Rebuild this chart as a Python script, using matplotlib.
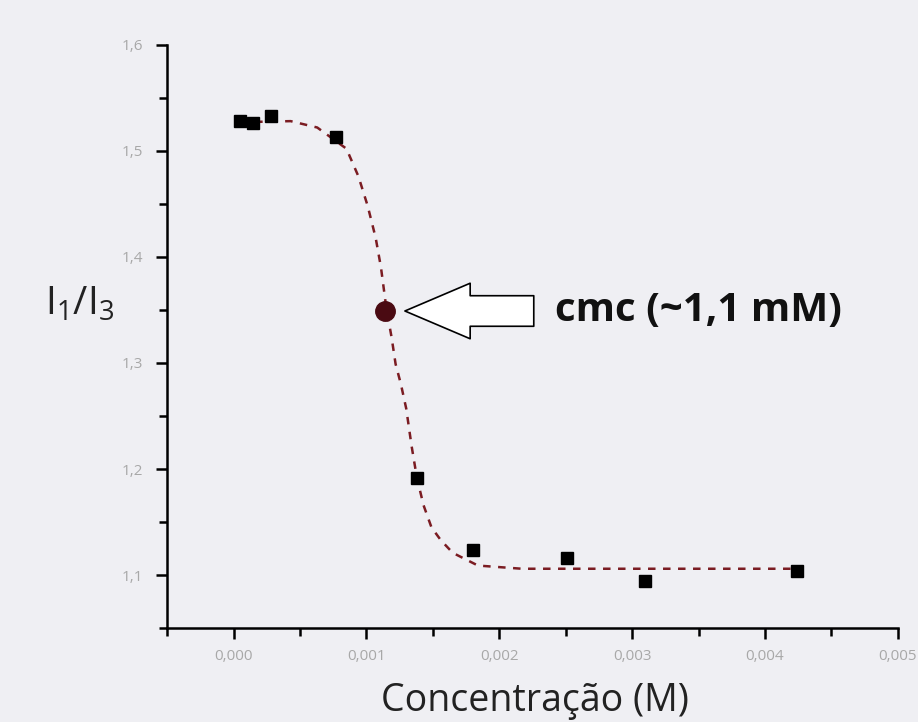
import matplotlib
matplotlib.use("Agg")
import matplotlib.pyplot as plt
from matplotlib.ticker import MultipleLocator

# measured points (concentration in M, I1/I3)
conc = [0.00005, 0.00015, 0.00028, 0.00077, 0.00138, 0.00180, 0.00251, 0.00310, 0.00424]
ratio = [1.528, 1.526, 1.533, 1.513, 1.192, 1.124, 1.116, 1.094, 1.104]

# fitted sigmoid
fit_x = [0.00005, 0.00043, 0.00063, 0.00085, 0.00094, 0.00101, 0.00107, 0.00111,
         0.00115, 0.00119, 0.00122, 0.00126, 0.00130, 0.00134, 0.00138, 0.00143,
         0.00149, 0.00156, 0.00165, 0.00184, 0.00217, 0.00315, 0.00426]
fit_y = [1.527, 1.528, 1.522, 1.502, 1.476, 1.448, 1.418, 1.390,
         1.352, 1.324, 1.299, 1.280, 1.257, 1.222, 1.192, 1.166,
         1.145, 1.133, 1.121, 1.109, 1.106, 1.106, 1.106]

# cmc point
cmc_x = 0.00114
cmc_y = 1.349

xticks = [0.000, 0.001, 0.002, 0.003, 0.004, 0.005]
xtick_labels = ["0,000", "0,001", "0,002", "0,003", "0,004", "0,005"]
yticks = [1.1, 1.2, 1.3, 1.4, 1.5, 1.6]
ytick_labels = ["1,1", "1,2", "1,3", "1,4", "1,5", "1,6"]

bg = "#efeff3"
plt.rcParams['font.family'] = ['Open Sans', 'DejaVu Sans']

fig = plt.figure(figsize=(9.18, 7.22), dpi=100, facecolor=bg)
ax = fig.add_axes([0.182, 0.130, 0.796, 0.808])
ax.set_facecolor(bg)

ax.plot(fit_x, fit_y, color="#7b1c22", lw=1.8, ls=(0, (3, 3)), zorder=2)
ax.plot(conc, ratio, ls="none", marker="s", ms=8.5, color="black", zorder=3)
ax.plot([cmc_x], [cmc_y], ls="none", marker="o", ms=14, color="#4a0a12", zorder=4)

# hollow arrow pointing at cmc
ax.annotate("", xy=(0.00129, cmc_y), xytext=(0.00226, cmc_y),
            arrowprops=dict(arrowstyle="simple,head_length=47,head_width=40,tail_width=22",
                            mutation_scale=1, fc="white", ec="black", lw=1.2,
                            shrinkA=0, shrinkB=0))
ax.text(0.00242, cmc_y, "cmc (~1,1 mM)", fontsize=29, fontweight="bold",
        va="center", ha="left", color="#111111")

ax.set_xlim(-0.0005, 0.005)
ax.set_ylim(1.05, 1.6)
ax.set_xticks(xticks)
ax.set_xticklabels(xtick_labels)
ax.set_yticks(yticks)
ax.set_yticklabels(ytick_labels)
ax.xaxis.set_minor_locator(MultipleLocator(0.0005))
ax.yaxis.set_minor_locator(MultipleLocator(0.05))

for s in ["top", "right"]:
    ax.spines[s].set_visible(False)
for s in ["left", "bottom"]:
    ax.spines[s].set_linewidth(1.8)
ax.tick_params(which="major", direction="out", length=8, width=1.8, labelsize=11,
               labelcolor="#a8a8a8")
ax.tick_params(axis="x", which="major", pad=7)
ax.tick_params(axis="y", which="major", pad=9)
ax.tick_params(which="minor", direction="out", length=6, width=1.8)

ax.set_xlabel("Concentração (M)", fontsize=27, color="#222222")
ax.xaxis.set_label_coords(0.503, -0.092)
ax.set_ylabel(r"$\mathregular{I_1/I_3}$", fontsize=28, rotation=0, color="#222222",
              va="center", ha="center")
ax.yaxis.set_label_coords(-0.119, 0.554)

fig.savefig("out.png", dpi=100, facecolor=bg)
